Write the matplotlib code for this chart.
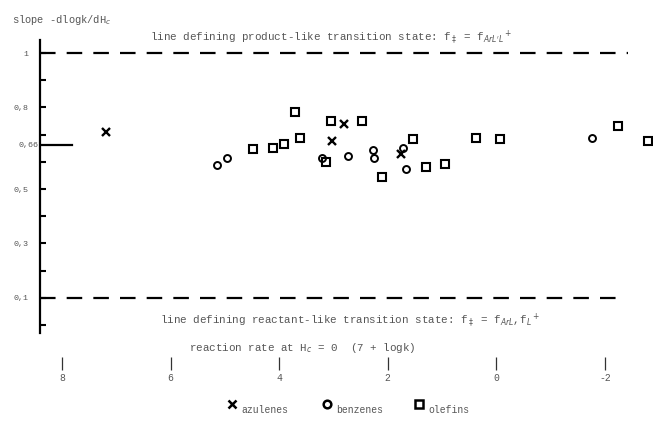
import matplotlib
matplotlib.use('Agg')
import matplotlib.pyplot as plt
from matplotlib.lines import Line2D

# reaction rate (7 + logk) and slope -dlogk/dHc
azul_x = [7.19, 2.81, 3.03, 1.76]
azul_y = [0.710, 0.739, 0.676, 0.629]

benz_x = [5.15, 4.96, 3.21, 2.73, 2.27, 2.25, 1.72, 1.66, -1.76]
benz_y = [0.588, 0.614, 0.614, 0.621, 0.643, 0.614, 0.651, 0.574, 0.688]

olef_x = [4.48, 4.11, 3.91, 3.62, 3.71, 3.05, 2.48, 3.14, 2.11, 1.54, 1.30, 0.95, 0.38, -0.07, -2.24, -2.79]
olef_y = [0.647, 0.651, 0.665, 0.688, 0.783, 0.750, 0.750, 0.599, 0.544, 0.684, 0.581, 0.592, 0.688, 0.684, 0.732, 0.676]

x_ticks = [8, 6, 4, 2, 0, -2]
x_ticklabels = ['8', '6', '4', '2', '0', '-2']
y_ticks = [1.0, 0.9, 0.8, 0.7, 0.6, 0.5, 0.4, 0.3, 0.2, 0.1, 0.0]
y_labels = {1.0: '1', 0.8: '0,8', 0.5: '0,5', 0.3: '0,3', 0.1: '0,1'}
product_line = 1.0
reactant_line = 0.1
mean_slope = 0.66

plt.rcParams['font.family'] = ['Liberation Mono', 'DejaVu Sans Mono']
plt.rcParams['mathtext.fontset'] = 'dejavusans'
txt_col = '#555555'

fig = plt.figure(figsize=(6.53, 4.30), dpi=100)
ax = fig.add_axes([40 / 653, 1 - 333 / 430, 613 / 653, 293 / 430])
ax.set_xlim(8.405, -2.884)
ax.set_ylim(-0.0294, 1.0478)

for s in ['top', 'right']:
    ax.spines[s].set_visible(False)
ax.spines['left'].set_linewidth(1.6)
ax.spines['bottom'].set_visible(False)
ax.spines['bottom'].set_position(('outward', 17))

# y ticks
ax.set_yticks(y_ticks)
ax.set_yticklabels([y_labels.get(t, '') for t in y_ticks], color=txt_col, fontsize=6)
ax.tick_params(axis='y', direction='in', length=4, width=1.5, pad=8)

# x ticks, detached from the plot area
ax.set_xticks(x_ticks)
ax.set_xticklabels(x_ticklabels, color=txt_col, fontsize=7)
ax.tick_params(axis='x', direction='out', length=9, width=0.9, pad=3, colors='#333333')
for lab in ax.get_xticklabels():
    lab.set_color(txt_col)

# reference lines
ax.axhline(product_line, xmin=0, xmax=0.96, color='black', lw=1.6, ls=(0, (7, 5)))
ax.axhline(reactant_line, xmin=0, xmax=0.94, color='black', lw=1.6, ls=(0, (7, 5)))
ax.axhline(mean_slope, xmin=0, xmax=32 / 613, color='black', lw=1.6)
ax.text(-0.003, mean_slope, '0,66', transform=ax.get_yaxis_transform(),
        ha='right', va='center', fontsize=6, color=txt_col)

# data
ax.plot(azul_x, azul_y, ls='none', marker='x', ms=5.5, mew=1.7, color='black', clip_on=False)
ax.plot(benz_x, benz_y, ls='none', marker='o', ms=5, mew=1.4, mfc='none', mec='black', clip_on=False)
ax.plot(olef_x, olef_y, ls='none', marker='s', ms=5.5, mew=1.5, mfc='none', mec='black', clip_on=False)

# texts
fig.text(12 / 653, 1 - 20 / 430, 'slope -dlogk/dH$_c$', fontsize=7.5, color=txt_col, va='center')
fig.text(150 / 653, 1 - 37 / 430,
         r'line defining product-like transition state: f$_\ddagger$ = f$_{ArL^{\prime}L}$$^+$',
         fontsize=7.8, color=txt_col, va='center')
fig.text(160 / 653, 1 - 320 / 430,
         r'line defining reactant-like transition state: f$_\ddagger$ = f$_{ArL}$,f$_L$$^+$',
         fontsize=7.8, color=txt_col, va='center')
fig.text(302 / 653, 1 - 348 / 430, 'reaction rate at H$_c$ = 0  (7 + logk)',
         fontsize=7.8, color=txt_col, va='center', ha='center')

# legend drawn by hand
legend_items = [('x', 'azulenes', 232), ('o', 'benzenes', 327), ('s', 'olefins', 419)]
for mk, name, px in legend_items:
    fig.add_artist(Line2D([px / 653], [1 - 404 / 430], transform=fig.transFigure, ls='none',
                          marker=mk, ms=6 if mk != 'o' else 5.5, mew=1.8, mfc='none', mec='black'))
    fig.text((px + 9) / 653, 1 - 410 / 430, name, fontsize=7, color=txt_col, va='center')

fig.savefig('out.png', dpi=100)
